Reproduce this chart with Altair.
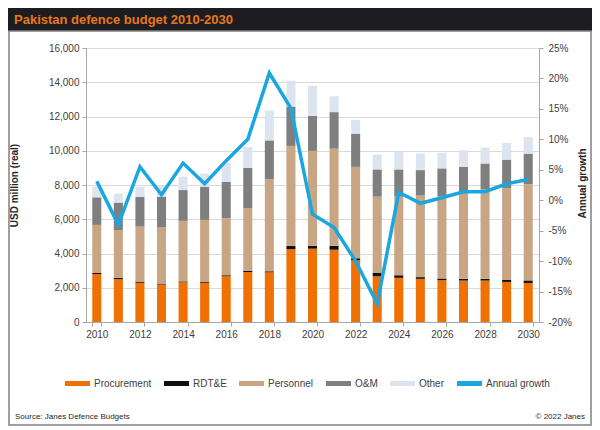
import altair as alt
import pandas as pd

years = list(range(2010, 2031))
procurement = [2800, 2500, 2280, 2190, 2320, 2280, 2670, 2920, 2900, 4260, 4280,
               4220, 3600, 2670, 2580, 2520, 2440, 2420, 2420, 2340, 2280]
rdte = [60, 80, 50, 50, 50, 50, 60, 70, 60, 190, 170,
        230, 120, 190, 150, 100, 100, 100, 100, 130, 150]
personnel = [2810, 2780, 3240, 3280, 3535, 3630, 3330, 3650, 5365, 5830, 5540,
             5675, 5340, 4460, 4590, 4760, 4820, 5090, 5225, 5330, 5620]
om = [1610, 1610, 1740, 1800, 1800, 1940, 2130, 2360, 2280, 2300, 2050,
      2130, 1940, 1590, 1590, 1490, 1610, 1450, 1510, 1680, 1780]
other = [620, 520, 580, 620, 780, 770, 1100, 1220, 1740, 1510, 1760,
         930, 810, 870, 1030, 970, 910, 970, 930, 970, 970]
growth = [3.1, -4.0, 5.5, 0.9, 6.1, 2.7, 6.5, 10.0, 20.9, 15.1, -2.3,
          -4.5, -10.0, -17.0, 1.3, -0.5, 0.4, 1.4, 1.4, 2.7, 3.4]

components = ["Procurement", "RDT&E", "Personnel", "O&M", "Other"]
series = components + ["Annual growth"]
palette = ["#ef7103", "#101010", "#c8a684", "#7f7f7f", "#dce5ef", "#1aa7e0"]

title_text = "Pakistan defence budget 2010-2030"
source_text = "Source: Janes Defence Budgets"
copy_text = "\u00a9 2022 Janes"

FONT = "Liberation Sans"
W, H = 453, 274

rows = []
for i, yr in enumerate(years):
    for k, (name, vals) in enumerate(zip(components, [procurement, rdte, personnel, om, other])):
        rows.append({"year": yr, "component": name, "value": vals[i], "idx": k})
bars_df = pd.DataFrame(rows)
growth_df = pd.DataFrame({"year": years, "growth": growth, "component": "Annual growth"})
one = pd.DataFrame({"t": [0]})

x_enc = alt.X(
    "year:O",
    title=None,
    scale=alt.Scale(paddingInner=0.58, paddingOuter=0.29),
    axis=alt.Axis(values=years[::2], labelAngle=0, labelFontSize=10, labelColor="#404040",
                  domainColor="#a6a6a6", tickColor="#a6a6a6", tickSize=4, labelPadding=3,
                  tickBand="extent"),
)

color_enc = alt.Color(
    "component:N",
    scale=alt.Scale(domain=series, range=palette),
    legend=alt.Legend(title=None, orient="none", legendX=-21, legendY=323, direction="horizontal",
                      columns=6, gridAlign="none", columnPadding=12, labelOffset=4,
                      symbolType="M-1,-0.2H1V0.2H-1Z", symbolSize=625, symbolStrokeWidth=0,
                      labelFontSize=10, labelColor="#404040", labelFont=FONT),
)

bars = alt.Chart(bars_df).mark_bar().encode(
    x=x_enc,
    y=alt.Y("value:Q", stack="zero", scale=alt.Scale(domain=[0, 16000]),
            axis=alt.Axis(values=list(range(0, 16001, 2000)), format=",d",
                          title="USD million (real)", titleFontSize=10, titleFontWeight="bold",
                          titleColor="#262626", titleX=-72, titleY=H / 2, titleBaseline="middle",
                          labelFontSize=10, labelColor="#404040", gridColor="#d9d9d9",
                          domainColor="#a6a6a6", tickColor="#a6a6a6", tickSize=4, labelPadding=3)),
    color=color_enc,
    order=alt.Order("idx:Q"),
)

line = alt.Chart(growth_df).mark_line(strokeWidth=3.5).encode(
    x=x_enc,
    y=alt.Y("growth:Q", scale=alt.Scale(domain=[-20, 25]),
            axis=alt.Axis(orient="right", values=list(range(-20, 26, 5)),
                          labelExpr="datum.value + '%'", grid=False,
                          title="Annual growth", titleFontSize=10, titleFontWeight="bold",
                          titleColor="#262626", titleX=43, titleY=H / 2 - 2, titleBaseline="middle",
                          titleAngle=270, labelFontSize=10, labelColor="#404040",
                          domainColor="#a6a6a6", tickColor="#a6a6a6", tickSize=4, labelPadding=5)),
    color=alt.Color("component:N", scale=alt.Scale(domain=series, range=palette)),
)

header = alt.Chart(one).mark_rect(color="#1c1c21").encode(
    x=alt.value(-78), x2=alt.value(W + 53), y=alt.value(-40), y2=alt.value(-17)
)
border = alt.Chart(one).mark_rect(fillOpacity=0, stroke="#808080", strokeWidth=1.5).encode(
    x=alt.value(-77), x2=alt.value(W + 52), y=alt.value(-17), y2=alt.value(377)
)
title = alt.Chart(one).mark_text(align="left", baseline="middle", font=FONT, fontSize=13,
                                 fontWeight="bold", color="#e8791a").encode(
    x=alt.value(-72), y=alt.value(-28), text=alt.value(title_text)
)
source = alt.Chart(one).mark_text(align="left", baseline="middle", font=FONT, fontSize=8,
                                  color="#262626").encode(
    x=alt.value(-71), y=alt.value(369), text=alt.value(source_text)
)
copyright_ = alt.Chart(one).mark_text(align="right", baseline="middle", font=FONT, fontSize=8,
                                      color="#262626").encode(
    x=alt.value(W + 46), y=alt.value(369), text=alt.value(copy_text)
)

chart = (
    alt.layer(header, border, bars, line, title, source, copyright_)
    .resolve_scale(y="independent")
    .properties(width=W, height=H, autosize=alt.AutoSizeParams(type="none"),
                padding={"left": 78, "top": 40, "right": 53, "bottom": 104})
    .configure(font=FONT, background="white")
    .configure_view(strokeWidth=0)
)

chart.save("out.html", embed_options={"renderer": "svg", "actions": False})
